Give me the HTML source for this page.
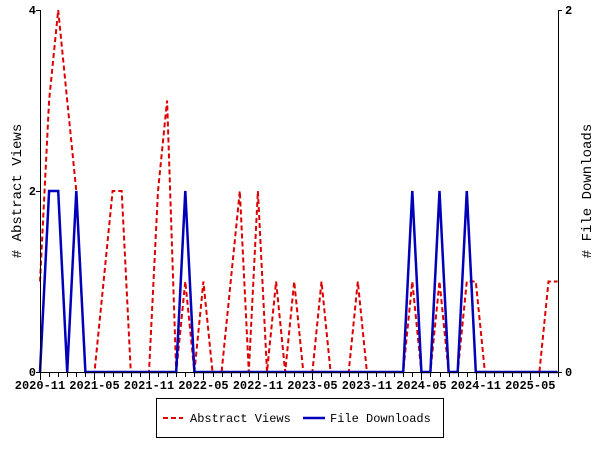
<!DOCTYPE html>
<html><head><meta charset="utf-8"><style>
html,body{margin:0;padding:0;background:#fff;}
svg{display:block;font-family:"Liberation Mono",monospace;font-weight:bold;}
</style></head><body>
<svg id="s" width="600" height="450" xmlns="http://www.w3.org/2000/svg">
<rect width="600" height="450" fill="#fff"/>
<g id="ticks" stroke="#000" stroke-width="1"></g>
<polyline id="red" fill="none" stroke="#dd0000" stroke-width="2" stroke-dasharray="5,3"/>
<polyline id="blue" fill="none" stroke="#0000bb" stroke-width="2.5"/>
<line x1="40.5" y1="10" x2="40.5" y2="372" stroke="#000"/>
<line x1="558.5" y1="10" x2="558.5" y2="372" stroke="#000"/>
<line x1="40" y1="372.5" x2="559" y2="372.5" stroke="#000"/>
<g font-size="12" fill="#000">
<text x="36" y="14" text-anchor="end">4</text>
<text x="36" y="195" text-anchor="end">2</text>
<text x="36" y="376" text-anchor="end">0</text>
<text x="565" y="14">2</text>
<text x="565" y="376">0</text>
</g>
<g id="xl" font-size="12" fill="#000" text-anchor="middle"></g>
<text transform="translate(21,191) rotate(-90)" font-size="14" font-weight="normal" text-anchor="middle">&#35; Abstract Views</text>
<text transform="translate(591,191) rotate(-90)" font-size="14" font-weight="normal" text-anchor="middle">&#35; File Downloads</text>
<rect x="156.5" y="398.5" width="287" height="39" fill="none" stroke="#000"/>
<line x1="163" y1="418" x2="183" y2="418" stroke="#dd0000" stroke-width="2" stroke-dasharray="5,3"/>
<text x="190" y="422" font-size="12" font-weight="normal">Abstract Views</text>
<line x1="303" y1="418" x2="325" y2="418" stroke="#0000bb" stroke-width="2.5"/>
<text x="330" y="422" font-size="12" font-weight="normal">File Downloads</text>
</svg>
<script>
var X=function(i){return 40+9.08*i;};
var red={0:1,1:3,2:4,3:3,4:2,5:0,6:0,7:1,8:2,9:2,10:0,11:0,12:0,13:2,14:3,15:0,16:1,17:0,18:1,19:0,20:0,21:1,22:2,23:0,24:2,25:0,26:1,27:0,28:1,29:0,30:0,31:1,32:0,33:0,34:0,35:1,36:0,41:1,44:1,47:1,48:1,55:0,56:1,57:1};
var blue={1:1,2:1,4:1,16:1,41:1,44:1,47:1};
var pr=[],pb=[];
for(var i=0;i<=57;i++){
 var x=X(i); if(x>558)x=558;
 pr.push(x.toFixed(1)+","+(372-90.5*(red[i]||0)).toFixed(1));
 pb.push(x.toFixed(1)+","+(372-181*(blue[i]||0)).toFixed(1));
}
document.getElementById("red").setAttribute("points",pr.join(" "));
document.getElementById("blue").setAttribute("points",pb.join(" "));
var t="",l="",labs=["2020-11","2021-05","2021-11","2022-05","2022-11","2023-05","2023-11","2024-05","2024-11","2025-05"];
for(var i=0;i<=57;i++){var x=Math.round(X(i))+0.5;t+='<line x1="'+x+'" y1="372" x2="'+x+'" y2="'+(i%6==0?380:377)+'"/>';}
t+='<line x1="36" y1="10.5" x2="40" y2="10.5"/><line x1="36" y1="191.5" x2="40" y2="191.5"/><line x1="36" y1="372.5" x2="40" y2="372.5"/>';
t+='<line x1="558" y1="10.5" x2="562" y2="10.5"/><line x1="558" y1="372.5" x2="562" y2="372.5"/>';
document.getElementById("ticks").innerHTML=t;
for(var k=0;k<labs.length;k++){l+='<text x="'+X(k*6).toFixed(1)+'" y="389">'+labs[k]+'</text>';}
document.getElementById("xl").innerHTML=l;
</script>
</body></html>
